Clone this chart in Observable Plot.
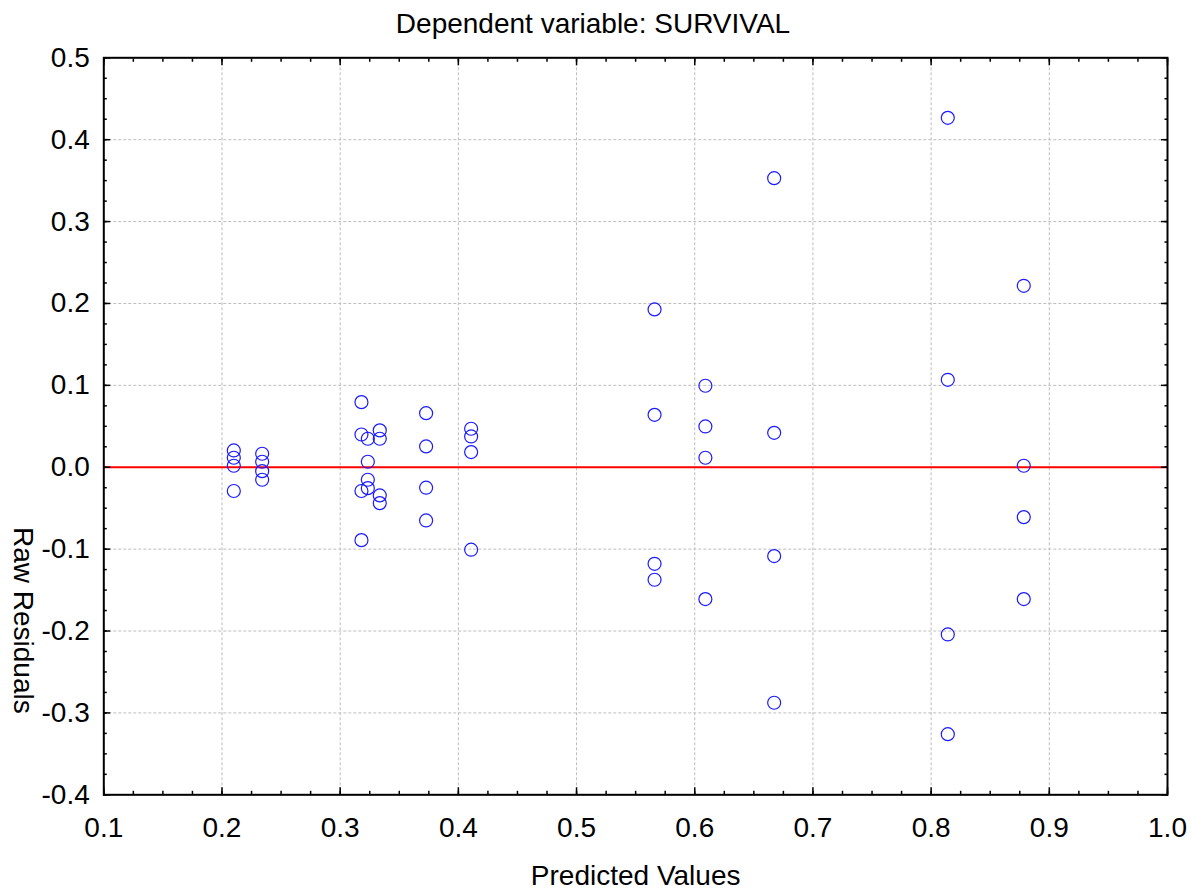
<!DOCTYPE html>
<html>
<head>
<meta charset="utf-8">
<script src="https://cdn.jsdelivr.net/npm/d3@7"></script>
<script src="https://cdn.jsdelivr.net/npm/@observablehq/plot@0.6"></script>
<style>
  body { margin: 0; background: #fff; }
  #title { height: 45px; width: 1186px; padding-right: 6px; text-align: center;
           font-family: "Liberation Sans", Arial, sans-serif; font-size: 28px; line-height: 47px; color: #000; }
  svg { display: block; overflow: visible; }
</style>
</head>
<body>
<div id="title">Dependent variable: SURVIVAL</div>
<div id="chart"></div>
<script>
// Predicted values (x) and raw residuals (y)
const predicted = [
  0.210, 0.210, 0.210, 0.210,
  0.234, 0.234, 0.234, 0.234,
  0.318, 0.318, 0.318, 0.318,
  0.3234, 0.3234, 0.3234, 0.3234,
  0.3335, 0.3335, 0.3335, 0.3335,
  0.3727, 0.3727, 0.3727, 0.3727,
  0.4108, 0.4108, 0.4108, 0.4108,
  0.566, 0.566, 0.566, 0.566,
  0.609, 0.609, 0.609, 0.609,
  0.6672, 0.6672, 0.6672, 0.6672,
  0.8141, 0.8141, 0.8141, 0.8141,
  0.8784, 0.8784, 0.8784, 0.8784
];
const residuals = [
  0.0205, 0.0116, 0.0018, -0.029,
  0.0165, 0.0067, -0.0048, -0.0153,
  0.0795, 0.040, -0.029, -0.089,
  0.0348, 0.0067, -0.0153, -0.0255,
  0.045, 0.0348, -0.0344, -0.0438,
  0.066, 0.0254, -0.025, -0.065,
  0.047, 0.0376, 0.0185, -0.1007,
  0.1927, 0.064, -0.1179, -0.1374,
  0.0995, 0.0498, 0.0116, -0.161,
  0.353, 0.042, -0.1085, -0.2876,
  0.4267, 0.1068, -0.2042, -0.326,
  0.2216, 0.0018, -0.0609, -0.161
];
const xTicks = [0.1, 0.2, 0.3, 0.4, 0.5, 0.6, 0.7, 0.8, 0.9, 1.0];
const yTicks = [-0.4, -0.3, -0.2, -0.1, 0.0, 0.1, 0.2, 0.3, 0.4, 0.5];
const xMinor = d3.range(0, 37).map(i => 0.1 + i * 0.025);
const yMinor = d3.range(0, 37).map(i => -0.4 + i * 0.025);
const xLabel = "Predicted Values";
const yLabel = "Raw Residuals";

const data = predicted.map((p, i) => ({x: p, y: residuals[i]}));
const fmt = d => Math.abs(d) < 1e-9 ? "0.0" : d.toFixed(1);
const font = "Liberation Sans, Arial, sans-serif";

const chart = Plot.plot({
  width: 1192,
  height: 845,
  marginLeft: 103.3,
  marginRight: 25,
  marginTop: 12.3,
  marginBottom: 95.7,
  style: {fontFamily: font, background: "#fff", color: "#000", overflow: "visible"},
  x: {domain: [0.1, 1.0], label: null},
  y: {domain: [-0.4, 0.5], label: null},
  marks: [
    Plot.gridX(xTicks, {stroke: "#bdbdbd", strokeOpacity: 1, strokeDasharray: "3,2"}),
    Plot.gridY(yTicks, {stroke: "#bdbdbd", strokeOpacity: 1, strokeDasharray: "3,2"}),
    Plot.ruleY([0], {stroke: "#ff0000", strokeWidth: 2}),
    Plot.dot(data, {x: "x", y: "y", r: 6.5, stroke: "#1a1aff", strokeWidth: 1.2, fill: "none"}),
    // major ticks, inward, on all four sides
    Plot.axisX(xTicks, {anchor: "bottom", tickSize: -7, fill: "none", strokeWidth: 1.5}),
    Plot.axisX(xTicks, {anchor: "top", tickSize: -7, fill: "none", strokeWidth: 1.5}),
    Plot.axisY(yTicks, {anchor: "left", tickSize: -7, fill: "none", strokeWidth: 1.5}),
    Plot.axisY(yTicks, {anchor: "right", tickSize: -7, fill: "none", strokeWidth: 1.5}),
    // minor ticks
    Plot.axisX(xMinor, {anchor: "bottom", tickSize: -3.5, fill: "none", strokeWidth: 1.5}),
    Plot.axisX(xMinor, {anchor: "top", tickSize: -3.5, fill: "none", strokeWidth: 1.5}),
    Plot.axisY(yMinor, {anchor: "left", tickSize: -3.5, fill: "none", strokeWidth: 1.5}),
    Plot.axisY(yMinor, {anchor: "right", tickSize: -3.5, fill: "none", strokeWidth: 1.5}),
    // tick labels
    Plot.axisX(xTicks, {anchor: "bottom", tickSize: 0, tickPadding: 22, tickFormat: fmt, fontSize: 28, label: null}),
    Plot.axisY(yTicks, {anchor: "left", tickSize: 0, tickPadding: 14, tickFormat: fmt, fontSize: 28, label: null}),
    Plot.frame({stroke: "#000", strokeWidth: 2}),
    // axis titles
    Plot.text([xLabel], {frameAnchor: "bottom", dy: 81, fontSize: 28, lineAnchor: "middle"}),
    Plot.text([yLabel], {frameAnchor: "left", textAnchor: "middle", dx: -81.3, dy: 194, rotate: 90, fontSize: 28, lineAnchor: "middle"})
  ]
});
document.getElementById("chart").appendChild(chart);
</script>
</body>
</html>
